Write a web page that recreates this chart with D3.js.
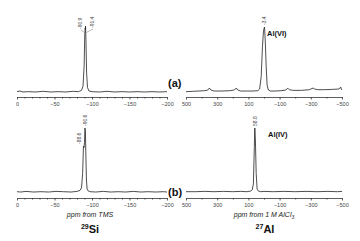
<!DOCTYPE html>
<html lang="en">
<head>
<meta charset="UTF-8">
<title>NMR spectra</title>
<script src="https://d3js.org/d3.v7.min.js"></script>
<style>
  body { margin: 0; background: #fff; }
  svg { display: block; font-family: "Liberation Sans", Arial, sans-serif; }
</style>
</head>
<body>
<div id="chart"></div>
<script>
const width = 360;
const height = 241;

// ppm ticks
const siTicks = [0, -50, -100, -150, -200];
const alTicks = [500, 300, 100, -100, -300, -500];

// spectra (ppm, relative intensity)
const siA_ppm = [0, -4, -8, -15, -25, -35, -45, -55, -65, -75, -82, -86, -88, -89.5, -90.3, -90.9, -91.2, -91.4, -92, -92.8, -94, -96, -100, -110, -120, -130, -140, -150, -160, -170, -180, -190, -200];
const siA_int = [2, 3, 1.5, 2, 1.5, 2.5, 1.5, 2, 1.5, 2.5, 2, 4, 10, 40, 85, 97, 95, 100, 75, 30, 8, 3, 2, 1.5, 2.5, 1.5, 2, 1.5, 2, 1.5, 2, 1.5, 2];

const alA_ppm = [500, 460, 420, 380, 360, 350, 340, 320, 270, 220, 190, 178, 168, 150, 110, 70, 40, 28, 18, 10, 3, -3.4, -8, -14, -20, -28, -40, -70, -110, -140, -152, -162, -185, -240, -290, -315, -325, -345, -390, -440, -480, -492, -496, -500];
const alA_int = [2, 2.5, 3, 3.5, 4.5, 7.5, 4.5, 3, 3, 3.5, 4.5, 7.5, 4.5, 3, 3, 3, 3.5, 6, 25, 70, 95, 100, 80, 40, 12, 4.5, 3, 3, 3.5, 4.5, 7.5, 5, 4, 4, 5, 7.5, 6, 5, 5, 5.5, 6, 9, 5, 6];

const siB_ppm = [0, -5, -12, -22, -32, -42, -52, -62, -72, -80, -84, -86, -87.5, -88.6, -89.4, -90, -90.6, -91.2, -91.8, -92.6, -93.5, -95, -98, -105, -115, -125, -135, -145, -155, -165, -175, -185, -195, -200];
const siB_int = [2, 1.5, 2.5, 1.5, 2, 1.5, 2.5, 2, 1.5, 2.5, 4, 8, 30, 72, 70, 78, 100, 96, 60, 20, 6, 3, 2, 1.5, 2.5, 1.5, 2, 1.5, 2.5, 1.5, 2, 1.5, 2, 1.5];

const alB_ppm = [500, 440, 380, 320, 260, 200, 150, 110, 85, 75, 68, 62, 58.8, 55, 50, 44, 36, 20, 0, -60, -130, -200, -270, -340, -410, -470, -500];
const alB_int = [2, 2, 2.5, 2, 2.5, 2, 2.5, 2, 3, 5, 14, 70, 100, 80, 30, 6, 3, 2, 2.5, 2, 2.5, 2, 2.5, 2, 2.5, 2, 2.5];

const peakLabels = {
  siA: [["-90.9", -90.9], ["-91.4", -91.4]],
  alA: [["-3.4", -3.4]],
  siB: [["-88.6", -88.6], ["-90.6", -90.6]],
  alB: [["58.8", 58.8]]
};

const svg = d3.select("#chart").append("svg")
  .attr("width", width)
  .attr("height", height);

const zip = (a, b) => a.map((d, i) => [d, b[i]]);

// one panel: x scale, y scale, axis, spectrum line
function panel(opts) {
  const x = d3.scaleLinear().domain(opts.domain).range(opts.xr);
  const y = d3.scaleLinear().domain([0, 100]).range(opts.yr);

  const minor = d3.range(opts.domain[0], opts.domain[1] + (opts.minorStep < 0 ? -0.01 : 0.01), opts.minorStep)
    .filter(v => !opts.ticks.includes(v));
  svg.append("g")
    .attr("transform", `translate(0,${opts.axisY})`)
    .call(d3.axisBottom(x).tickValues(minor).tickSize(1.5).tickFormat(""))
    .call(g => g.select(".domain").remove())
    .selectAll("line").attr("stroke", "#555");

  const ax = svg.append("g")
    .attr("transform", `translate(0,${opts.axisY})`)
    .call(d3.axisBottom(x).tickValues(opts.ticks).tickSize(2.5).tickSizeOuter(0).tickPadding(2.5));
  ax.select(".domain").attr("stroke", "#333").attr("stroke-width", 0.8);
  ax.selectAll(".tick line").attr("stroke", "#333").attr("stroke-width", 0.8);
  ax.selectAll("text").attr("font-size", 5.5).attr("fill", "#444")
    .attr("font-family", "Liberation Sans, Arial, sans-serif");

  const line = d3.line().x(d => x(d[0])).y(d => y(d[1]));
  svg.append("path")
    .datum(zip(opts.ppm, opts.int))
    .attr("fill", "none")
    .attr("stroke", "#222")
    .attr("stroke-width", 0.8)
    .attr("d", line);

  return { x, y };
}

const siXr = [17, 167];
const alXr = [186, 342];

const pA = panel({ domain: [0, -200], xr: siXr, yr: [93, 26], axisY: 97, ticks: siTicks, minorStep: -10, ppm: siA_ppm, int: siA_int });
const pAa = panel({ domain: [500, -500], xr: alXr, yr: [93, 27], axisY: 97, ticks: alTicks, minorStep: -100, ppm: alA_ppm, int: alA_int });
const pB = panel({ domain: [0, -200], xr: siXr, yr: [193, 128], axisY: 198, ticks: siTicks, minorStep: -10, ppm: siB_ppm, int: siB_int });
const pBa = panel({ domain: [500, -500], xr: alXr, yr: [193, 128], axisY: 198, ticks: alTicks, minorStep: -100, ppm: alB_ppm, int: alB_int });

// rotated peak labels
function rotLabel(text, x, y) {
  svg.append("text")
    .attr("transform", `translate(${x},${y}) rotate(-90)`)
    .attr("text-anchor", "start")
    .attr("font-size", 5)
    .attr("fill", "#444")
    .text(text);
}

// (a) 29Si
rotLabel(peakLabels.siA[0][0], 82, 29);
rotLabel(peakLabels.siA[1][0], 94, 28);
svg.append("path").attr("d", `M81,30 L${pA.x(-91)},33 M93,29 L${pA.x(-91)},33`)
  .attr("stroke", "#777").attr("stroke-width", 0.5).attr("fill", "none");

// (a) 27Al
rotLabel(peakLabels.alA[0][0], pAa.x(-3.4) + 1, 25);

// (b) 29Si
rotLabel(peakLabels.siB[1][0], 87, 126);
rotLabel(peakLabels.siB[0][0], 81, 144);

// (b) 27Al
rotLabel(peakLabels.alB[0][0], pBa.x(58.8) + 2, 126);

// species labels
svg.append("text").attr("x", 267).attr("y", 36).attr("font-size", 7.5).attr("font-weight", "bold")
  .attr("fill", "#111").text("Al(VI)");
svg.append("text").attr("x", 268).attr("y", 137).attr("font-size", 7.5).attr("font-weight", "bold")
  .attr("fill", "#111").text("Al(IV)");

// panel tags
svg.append("text").attr("x", 168).attr("y", 87).attr("font-size", 11).attr("font-weight", "bold")
  .attr("fill", "#111").text("(a)");
svg.append("text").attr("x", 168).attr("y", 196).attr("font-size", 11).attr("font-weight", "bold")
  .attr("fill", "#111").text("(b)");

// axis titles
svg.append("text").attr("x", 90).attr("y", 217).attr("text-anchor", "middle")
  .attr("font-size", 7).attr("font-style", "italic").attr("fill", "#222").text("ppm from TMS");
const t2 = svg.append("text").attr("x", 264).attr("y", 217).attr("text-anchor", "middle")
  .attr("font-size", 7).attr("font-style", "italic").attr("fill", "#222");
t2.append("tspan").text("ppm from 1 M AlCl");
t2.append("tspan").attr("font-size", 5).attr("dy", 1.5).text("3");

// nuclei
const n1 = svg.append("text").attr("x", 90).attr("y", 233).attr("text-anchor", "middle")
  .attr("font-weight", "bold").attr("fill", "#111");
n1.append("tspan").attr("font-size", 7).attr("dy", -4).text("29");
n1.append("tspan").attr("font-size", 11).attr("dy", 4).text("Si");
const n2 = svg.append("text").attr("x", 265).attr("y", 233).attr("text-anchor", "middle")
  .attr("font-weight", "bold").attr("fill", "#111");
n2.append("tspan").attr("font-size", 7).attr("dy", -4).text("27");
n2.append("tspan").attr("font-size", 11).attr("dy", 4).text("Al");
</script>
</body>
</html>
